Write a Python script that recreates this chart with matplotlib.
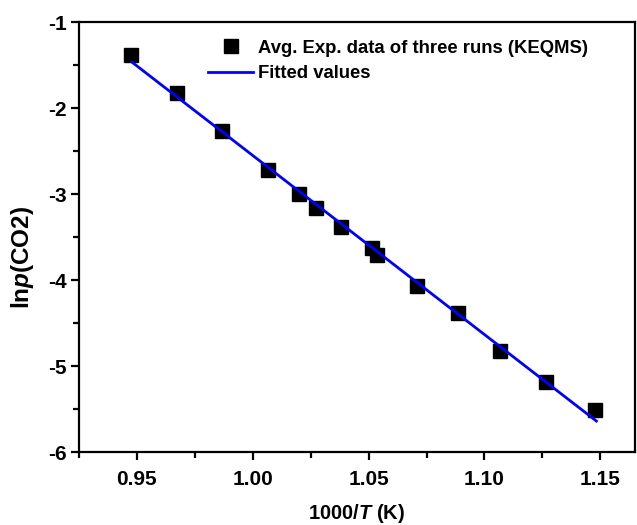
import matplotlib
matplotlib.use('Agg')
import matplotlib.pyplot as plt
import numpy as np

inv_T = [0.9474, 0.9672, 0.9866, 1.0065, 1.0198, 1.0272, 1.0379, 1.0513,
         1.0534, 1.0707, 1.0884, 1.1069, 1.1267, 1.1478]
ln_p = [-1.38, -1.83, -2.27, -2.72, -3.00, -3.16, -3.38, -3.63,
        -3.71, -4.07, -4.38, -4.83, -5.19, -5.51]

# fitted line end points
fit_x = [0.9478, 1.1483]
fit_y = [-1.465, -5.64]

plt.rcParams['font.family'] = ['Liberation Sans', 'DejaVu Sans']
plt.rcParams['font.weight'] = 'bold'
plt.rcParams['mathtext.fontset'] = 'custom'
plt.rcParams['mathtext.it'] = 'Liberation Sans:italic:bold'
plt.rcParams['mathtext.rm'] = 'Liberation Sans:bold'

fig = plt.figure(figsize=(6.37, 5.25), dpi=100)
ax = fig.add_axes([0.124, 0.139, 0.873, 0.819])

ax.plot(inv_T, ln_p, ls='none', marker='s', ms=9.5, color='black',
        label='Avg. Exp. data of three runs (KEQMS)')
ax.plot(fit_x, fit_y, color='#0000ff', lw=2,
        label='Fitted values')

ax.set_xlim(0.925, 1.165)
ax.set_ylim(-6, -1)
ax.set_xticks([0.95, 1.00, 1.05, 1.10, 1.15])
ax.set_xticks([0.925, 0.975, 1.025, 1.075, 1.125], minor=True)
ax.set_yticks([-6, -5, -4, -3, -2, -1])
ax.set_yticks([-5.5, -4.5, -3.5, -2.5, -1.5], minor=True)
ax.set_xticklabels(['0.95', '1.00', '1.05', '1.10', '1.15'])
ax.set_yticklabels(['-6', '-5', '-4', '-3', '-2', '-1'])

ax.tick_params(which='both', direction='out', width=1.6, labelsize=15)
ax.tick_params(which='major', length=6)
ax.tick_params(axis='x', which='major', pad=7)
ax.tick_params(axis='y', which='major', pad=3)
ax.tick_params(which='minor', length=4)
for s in ax.spines.values():
    s.set_linewidth(1.6)

ax.set_xlabel(r'1000/$T$ (K)', fontsize=14.5, fontweight='bold', labelpad=9)
ax.set_ylabel(r'ln$p$(CO2)', fontsize=17.5, fontweight='bold')
ax.yaxis.set_label_coords(-0.078, 0.453)

ax.legend(loc='upper left', bbox_to_anchor=(0.232, 0.959), frameon=False,
          fontsize=13.3, handlelength=2.44, handletextpad=0.27,
          labelspacing=0.47, borderaxespad=0, borderpad=0)

fig.savefig('out.png', dpi=100)
